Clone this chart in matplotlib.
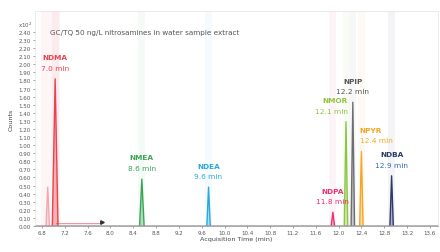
import matplotlib
matplotlib.use("Agg")
import matplotlib.pyplot as plt
import numpy as np

# peak table
names = ["", "NDMA", "NMEA", "NDEA", "NDPA", "NMOR", "NPIP", "NPYR", "NDBA"]
rt = [6.90, 7.03, 8.55, 9.72, 11.90, 12.13, 12.25, 12.40, 12.93]
rt_text = ["", "7.0 min", "8.6 min", "9.6 min", "11.8 min", "12.1 min", "12.2 min", "12.4 min", "12.9 min"]
heights = [0.48, 1.82, 0.58, 0.48, 0.17, 1.29, 1.53, 0.92, 0.62]
widths = [0.03, 0.05, 0.04, 0.03, 0.03, 0.03, 0.03, 0.03, 0.03]
colors = ["#f4a7b0", "#e8434f", "#3aa655", "#29a8e0", "#e8336e", "#8cc63f", "#6d6e71", "#f5a623", "#2b3a67"]
label_colors = ["#f4a7b0", "#e8434f", "#3aa655", "#29a8e0", "#e8336e", "#8cc63f", "#555555", "#f5a623", "#2b3a67"]
time_colors = ["#f4a7b0", "#e8434f", "#3aa655", "#29a8e0", "#e8336e", "#8cc63f", "#555555", "#f5a623", "#2f6db5"]
label_align = ["center", "center", "center", "center", "center", "right", "center", "left", "center"]

xticks = [6.8, 7.2, 7.6, 8.0, 8.4, 8.8, 9.2, 9.6, 10.0, 10.4, 10.8, 11.2, 11.6, 12.0, 12.4, 12.8, 13.2, 13.6]
yticks = [round(0.1 * i, 1) for i in range(25)]

fig = plt.figure(figsize=(4.4, 2.53), dpi=100)
ax = fig.add_axes([0.08, 0.103, 0.915, 0.85])

# faint highlight bands behind each peak
for t, c in zip(rt[1:], colors[1:]):
    ax.axvspan(t - 0.06, t + 0.06, color=c, alpha=0.05, lw=0)
ax.axvspan(6.78, 7.12, color="#e8434f", alpha=0.05, lw=0)

# NDMA tail / integration region
ax.fill_between([7.05, 7.85], 0, 0.04, color="#e8434f", alpha=0.12, lw=0)
ax.plot([7.05, 7.85], [0.04, 0.04], color="#e8434f", lw=0.6, alpha=0.6)
ax.plot([7.85], [0.05], marker=">", ms=2.5, color="#333333")

for i in range(len(rt)):
    t, h, w = rt[i], heights[i], widths[i]
    xs = [t - w, t, t + w]
    ys = [0, h, 0]
    ax.fill(xs, ys, color=colors[i], alpha=0.35, lw=0)
    ax.plot(xs, ys, color=colors[i], lw=1.0)
    if names[i]:
        tx = t
        if label_align[i] == "right":
            tx = t + 0.03
        elif label_align[i] == "left":
            tx = t - 0.03
        ax.text(tx, h + 0.23, names[i], color=label_colors[i], fontsize=5.3,
                ha=label_align[i], va="bottom", fontweight="bold")
        ax.text(tx, h + 0.10, rt_text[i], color=time_colors[i], fontsize=5.3,
                ha=label_align[i], va="bottom")

ax.plot([6.68, 13.74], [0.01, 0.01], color="#999999", lw=0.5)

ax.set_xlim(6.68, 13.74)
ax.set_ylim(0, 2.66)
ax.set_xticks(xticks)
ax.set_xticklabels(["%.1f" % v for v in xticks])
ax.set_yticks(yticks)
ax.set_yticklabels(["%.2f" % v for v in yticks])
ax.tick_params(labelsize=4.0, colors="#555555", length=1.5, width=0.4, pad=1.5)
for s in ax.spines.values():
    s.set_color("#e3e3e3")
    s.set_linewidth(0.5)
ax.spines["bottom"].set_color("#888888")

ax.set_xlabel("Acquisition Time (min)", fontsize=4.6, color="#444444", labelpad=1)
ax.set_ylabel("Counts", fontsize=4.6, color="#444444", labelpad=4)
ax.text(0.037, 0.90, "GC/TQ 50 ng/L nitrosamines in water sample extract",
        transform=ax.transAxes, fontsize=5.2, color="#555555", va="center")
fig.text(25 / 440, 1 - 25 / 253, "x10$^2$", fontsize=4.0, color="#555555", ha="center", va="center")

fig.savefig("out.png", dpi=100)
